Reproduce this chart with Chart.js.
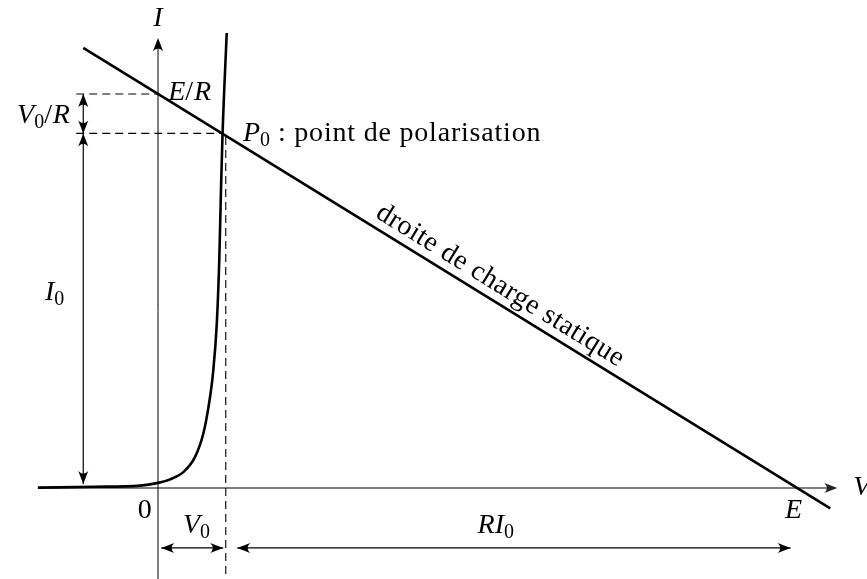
<!DOCTYPE html>
<html>
<head>
<meta charset="utf-8">
<script src="https://cdn.jsdelivr.net/npm/chart.js@4.4.0/dist/chart.umd.min.js"></script>
<style>
  html, body { margin: 0; padding: 0; background: #fff; }
  #wrap { width: 867px; height: 579px; }
</style>
</head>
<body>
<div id="wrap"><canvas id="chart" width="867" height="579"></canvas></div>
<script>
// caractéristique I(V) de la diode
const diodeV = [-1.88, -1.0, -0.28, 0.0, 0.19, 0.40, 0.58, 0.71, 0.79, 0.86, 0.92, 0.96, 0.985, 1.01, 1.075];
const diodeI = [0.01, 0.03, 0.06, 0.13, 0.22, 0.41, 0.79, 1.39, 2.06, 2.91, 4.18, 5.87, 7.56, 9.0, 11.55];

// droite de charge statique (extrémités)
const loadV = [-1.17, 10.52];
const loadI = [11.17, -0.52];

// grandeurs du montage
const E = 10;      // tension de la source
const ER = 10;     // E/R
const V0 = 1.06;   // tension de polarisation
const I0 = 9.0;    // courant de polarisation
const P0V = 1.0;   // abscisse du point P0

const FONT = '"Liberation Serif", "Times New Roman", serif';
const SIZE = 28;
const SPACING = '0.8px';

const xy = (vs, is) => vs.map((v, k) => ({ x: v, y: is[k] }));

function head(ctx, x, y, ang, len = 13, half = 5) {
  ctx.save();
  ctx.translate(x, y);
  ctx.rotate(ang);
  ctx.beginPath();
  ctx.moveTo(0, 0);
  ctx.lineTo(-len, -half);
  ctx.quadraticCurveTo(-len * 0.6, 0, -len, half);
  ctx.closePath();
  ctx.fill();
  ctx.restore();
}

function seg(ctx, x1, y1, x2, y2) {
  ctx.beginPath();
  ctx.moveTo(x1, y1);
  ctx.lineTo(x2, y2);
  ctx.stroke();
}

// double flèche de cote
function cote(ctx, x1, y1, x2, y2) {
  const ang = Math.atan2(y2 - y1, x2 - x1);
  seg(ctx, x1, y1, x2, y2);
  head(ctx, x2, y2, ang);
  head(ctx, x1, y1, ang + Math.PI);
}

function setFont(ctx, kind) {
  ctx.letterSpacing = kind === 'r' ? SPACING : '0px';
  if (kind === 'i') ctx.font = `italic ${SIZE}px ${FONT}`;
  else if (kind === 's') ctx.font = `${Math.round(SIZE * 0.7)}px ${FONT}`;
  else ctx.font = `${SIZE}px ${FONT}`;
}

function mathText(ctx, parts, x, y, align) {
  let w = 0;
  for (const [t, k] of parts) { setFont(ctx, k); w += ctx.measureText(t).width; }
  let cx = align === 'center' ? x - w / 2 : align === 'right' ? x - w : x;
  ctx.textBaseline = 'alphabetic';
  ctx.textAlign = 'left';
  for (const [t, k] of parts) {
    setFont(ctx, k);
    ctx.fillText(t, cx, k === 's' ? y + SIZE * 0.17 : y);
    cx += ctx.measureText(t).width;
  }
  ctx.letterSpacing = '0px';
}

const drawings = {
  id: 'drawings',
  beforeDatasetsDraw(chart) {
    const { ctx, scales: { x, y } } = chart;
    const y0 = y.getPixelForValue(0), x0 = x.getPixelForValue(0);
    ctx.save();
    // axe des tensions
    ctx.strokeStyle = '#555'; ctx.fillStyle = '#222'; ctx.lineWidth = 1.7;
    const vEnd = x.getPixelForValue(10.63);
    seg(ctx, x.getPixelForValue(-1.88), y0, vEnd - 6, y0);
    head(ctx, vEnd, y0, 0);
    // axe des courants
    ctx.strokeStyle = '#000'; ctx.fillStyle = '#000'; ctx.lineWidth = 1;
    const iEnd = y.getPixelForValue(11.42);
    seg(ctx, x0, y.getPixelForValue(-2.31), x0, iEnd + 6);
    head(ctx, x0, iEnd, -Math.PI / 2);
    ctx.restore();
  },
  afterDatasetsDraw(chart) {
    const { ctx, scales: { x, y } } = chart;
    ctx.save();
    ctx.strokeStyle = '#000'; ctx.fillStyle = '#000'; ctx.lineWidth = 1.2;

    // cotes verticales à gauche
    const xl = x.getPixelForValue(-1.17);
    cote(ctx, xl, y.getPixelForValue(I0), xl, y.getPixelForValue(ER));
    cote(ctx, xl, y.getPixelForValue(I0), xl, y.getPixelForValue(0.1));

    // cotes horizontales en bas
    const yb = y.getPixelForValue(-1.52);
    cote(ctx, x.getPixelForValue(0.05), yb, x.getPixelForValue(V0 - 0.04), yb);
    cote(ctx, x.getPixelForValue(1.24), yb, x.getPixelForValue(9.9), yb);

    // textes
    mathText(ctx, [['I', 'i']], x.getPixelForValue(0), y.getPixelForValue(11.73), 'center');
    mathText(ctx, [['E', 'i'], ['/', 'r'], ['R', 'i']], x.getPixelForValue(0.16), y.getPixelForValue(9.85), 'left');
    mathText(ctx, [['V', 'i'], ['0', 's'], ['/', 'r'], ['R', 'i']], x.getPixelForValue(-1.38), y.getPixelForValue(9.26), 'right');
    mathText(ctx, [['P', 'i'], ['0', 's'], [' : point de polarisation', 'r']], x.getPixelForValue(1.33), y.getPixelForValue(8.81), 'left');
    mathText(ctx, [['I', 'i'], ['0', 's']], x.getPixelForValue(-1.77), y.getPixelForValue(4.77), 'left');
    mathText(ctx, [['0', 'r']], x.getPixelForValue(-0.2), y.getPixelForValue(-0.76), 'center');
    mathText(ctx, [['V', 'i'], ['0', 's']], x.getPixelForValue(0.39), y.getPixelForValue(-1.14), 'left');
    mathText(ctx, [['R', 'i'], ['I', 'i'], ['0', 's']], x.getPixelForValue(5.0), y.getPixelForValue(-1.14), 'left');
    mathText(ctx, [['E', 'i']], x.getPixelForValue(9.81), y.getPixelForValue(-0.76), 'left');
    mathText(ctx, [['V', 'i']], x.getPixelForValue(10.88), y.getPixelForValue(-0.18), 'left');

    // légende le long de la droite de charge
    const ax = x.getPixelForValue(loadV[0]), ay = y.getPixelForValue(loadI[0]);
    const bx = x.getPixelForValue(loadV[1]), by = y.getPixelForValue(loadI[1]);
    const ang = Math.atan2(by - ay, bx - ax);
    const mv = 5.22;
    ctx.translate(x.getPixelForValue(mv), y.getPixelForValue(E - mv));
    ctx.rotate(ang);
    ctx.font = `${SIZE}px ${FONT}`;
    ctx.letterSpacing = '0.5px';
    ctx.textAlign = 'center';
    ctx.textBaseline = 'alphabetic';
    ctx.fillText('droite de charge statique', 0, -9);
    ctx.restore();
  }
};

const dashed = { borderColor: '#000', borderWidth: 1.1, borderDash: [8, 5], pointRadius: 0, showLine: true, fill: false };

new Chart(document.getElementById('chart'), {
  type: 'scatter',
  data: {
    datasets: [
      { data: xy([-1.28, 0], [ER, ER]), ...dashed },
      { data: xy([-1.28, P0V], [I0, I0]), ...dashed },
      { data: xy([V0, V0], [8.91, -2.31]), ...dashed },
      {
        data: xy(diodeV, diodeI), showLine: true, borderColor: '#000', borderWidth: 2.6,
        pointRadius: 0, cubicInterpolationMode: 'monotone', fill: false
      },
      { data: xy(loadV, loadI), showLine: true, borderColor: '#000', borderWidth: 2.6, pointRadius: 0, fill: false }
    ]
  },
  options: {
    responsive: false,
    animation: false,
    devicePixelRatio: 1,
    layout: { padding: 0 },
    plugins: { legend: { display: false }, tooltip: { enabled: false } },
    scales: {
      x: { type: 'linear', display: false, min: -2.473, max: 11.095 },
      y: { type: 'linear', display: false, min: -2.31, max: 12.386 }
    }
  },
  plugins: [drawings]
});
</script>
</body>
</html>
